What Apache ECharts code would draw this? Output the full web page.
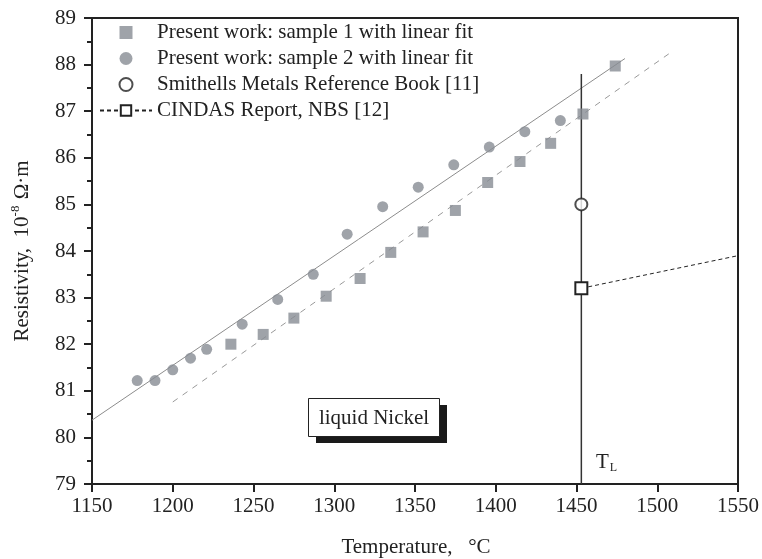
<!DOCTYPE html>
<html>
<head>
<meta charset="utf-8">
<script src="https://cdn.jsdelivr.net/npm/echarts@6/dist/echarts.min.js"></script>
<style>
  html, body { margin: 0; padding: 0; background: #fff; }
  #chart { width: 762px; height: 559px; }
</style>
</head>
<body>
<div id="chart"></div>
<script>
// sample 1 (squares)
var s1Temp = [1236, 1256, 1275, 1295, 1316, 1335, 1355, 1375, 1395, 1415, 1434, 1454, 1474];
var s1Res = [82.0, 82.21, 82.56, 83.03, 83.41, 83.97, 84.41, 84.87, 85.47, 85.92, 86.31, 86.94, 87.97];
// sample 2 (circles)
var s2Temp = [1178, 1189, 1200, 1211, 1221, 1243, 1265, 1287, 1308, 1330, 1352, 1374, 1396, 1418, 1440];
var s2Res = [81.22, 81.22, 81.45, 81.70, 81.89, 82.43, 82.96, 83.50, 84.36, 84.95, 85.37, 85.85, 86.23, 86.56, 86.80];
// linear fits, end points
var fit1Temp = [1200, 1510];
var fit1Res = [80.76, 88.30];
var fit2Temp = [1150, 1480];
var fit2Res = [80.37, 88.13];
// reference values
var smithellsTemp = [1453];
var smithellsRes = [85.0];
var cindasTemp = [1453, 1550];
var cindasRes = [83.2, 83.9];
// liquidus
var tlTemp = [1453, 1453];
var tlRes = [79, 87.8];

var names = [
  "Present work: sample 1 with linear fit",
  "Present work: sample 2 with linear fit",
  "Smithells Metals Reference Book [11]",
  "CINDAS Report, NBS [12]"
];

var FONT = "'Liberation Serif', 'Times New Roman', serif";
var TXT = "#222";
var GRAY = "#878c94";

function pairs(xs, ys) {
  return xs.map(function (x, i) { return [x, ys[i]]; });
}

var chart = echarts.init(document.getElementById("chart"));
chart.setOption({
  animation: false,
  grid: {
    left: 92,
    right: 22,
    top: 18,
    bottom: 75,
    show: true,
    borderColor: "#222",
    borderWidth: 2
  },
  legend: {
    orient: "vertical",
    left: 94,
    top: 17,
    itemGap: 5,
    itemWidth: 52,
    itemHeight: 13,
    selectedMode: false,
    textStyle: { fontFamily: FONT, fontSize: 21, color: TXT },
    data: [
      { name: names[0], icon: "path://M0,0h10v10h-10z" },
      { name: names[1], icon: "circle" },
      { name: names[2] },
      { name: names[3] }
    ]
  },
  xAxis: {
    type: "value",
    min: 1150,
    max: 1550,
    interval: 50,
    axisLine: { lineStyle: { color: "#222", width: 2 } },
    axisTick: { inside: false, length: 8, lineStyle: { color: "#222", width: 2 } },
    axisLabel: {
      margin: 12,
      fontFamily: FONT,
      fontSize: 21,
      color: TXT,
      formatter: function (v) { return String(v); }
    },
    splitLine: { show: false }
  },
  yAxis: {
    type: "value",
    min: 79,
    max: 89,
    interval: 1,
    axisLine: { show: true, lineStyle: { color: "#222", width: 2 } },
    axisTick: { show: true, length: 8, lineStyle: { color: "#222", width: 2 } },
    minorTick: { show: true, splitNumber: 2, length: 5, lineStyle: { color: "#222", width: 2 } },
    axisLabel: { margin: 16, fontFamily: FONT, fontSize: 21, color: TXT },
    splitLine: { show: false }
  },
  series: [
    {
      name: names[0],
      type: "scatter",
      symbol: "rect",
      symbolSize: 11,
      itemStyle: { color: GRAY },
      data: pairs(s1Temp, s1Res),
      z: 5
    },
    {
      name: names[1],
      type: "scatter",
      symbol: "circle",
      symbolSize: 11,
      itemStyle: { color: GRAY },
      data: pairs(s2Temp, s2Res),
      z: 5
    },
    {
      name: names[2],
      type: "scatter",
      symbol: "emptyCircle",
      symbolSize: 12,
      itemStyle: { color: "#222", borderColor: "#222", borderWidth: 1.2 },
      data: pairs(smithellsTemp, smithellsRes),
      z: 6
    },
    {
      name: names[3],
      type: "line",
      symbol: "emptyRect",
      symbolSize: 12,
      showAllSymbol: true,
      lineStyle: { color: "#222", width: 1, type: [4, 3] },
      itemStyle: { color: "#222", borderColor: "#222", borderWidth: 1.2 },
      data: pairs(cindasTemp, cindasRes).map(function (p, i) {
        return i === 0 ? p : { value: p, symbol: "none" };
      }),
      z: 6
    },
    // fit lines
    {
      type: "line",
      symbol: "none",
      lineStyle: { color: "#8c8c8c", width: 1 },
      data: pairs(fit2Temp, fit2Res),
      z: 3
    },
    {
      type: "line",
      symbol: "none",
      lineStyle: { color: "#999", width: 1, type: [6, 6] },
      data: pairs(fit1Temp, fit1Res),
      z: 3
    },
    // liquidus line
    {
      type: "line",
      symbol: "none",
      lineStyle: { color: "#333", width: 1.5 },
      data: pairs(tlTemp, tlRes),
      z: 4
    }
  ],
  graphic: [
    {
      type: "text",
      x: 22,
      y: 251,
      rotation: Math.PI / 2,
      style: {
        text: "{a|Resistivity,  10}{s|-8}{a| Ω·m}",
        align: "center",
        verticalAlign: "middle",
        fill: TXT,
        rich: {
          a: { fontFamily: FONT, fontSize: 21, fill: TXT },
          s: { fontFamily: FONT, fontSize: 13, fill: TXT, padding: [0, 1, 12, 0] }
        }
      }
    },
    {
      type: "text",
      x: 416,
      y: 547,
      style: {
        text: "Temperature,   °C",
        font: "21px " + FONT,
        fill: TXT,
        align: "center",
        verticalAlign: "middle"
      }
    },
    {
      type: "text",
      x: 596,
      y: 462,
      style: {
        text: "{t|T}{l|L}",
        align: "left",
        verticalAlign: "middle",
        rich: {
          t: { fontFamily: FONT, fontSize: 21, fill: TXT },
          l: { fontFamily: FONT, fontSize: 12, fill: TXT, padding: [12, 0, 0, 1] }
        }
      }
    },
    // "liquid Nickel" box with shadow
    {
      type: "rect",
      shape: { x: 316, y: 405, width: 131, height: 38 },
      style: { fill: "#1a1a1a" },
      z: 10
    },
    {
      type: "rect",
      shape: { x: 308.5, y: 398.5, width: 131, height: 38 },
      style: { fill: "#fff", stroke: "#222", lineWidth: 1 },
      z: 11
    },
    {
      type: "text",
      x: 374,
      y: 418,
      style: {
        text: "liquid Nickel",
        font: "21px " + FONT,
        fill: TXT,
        align: "center",
        verticalAlign: "middle"
      },
      z: 12
    }
  ]
});
</script>
</body>
</html>
